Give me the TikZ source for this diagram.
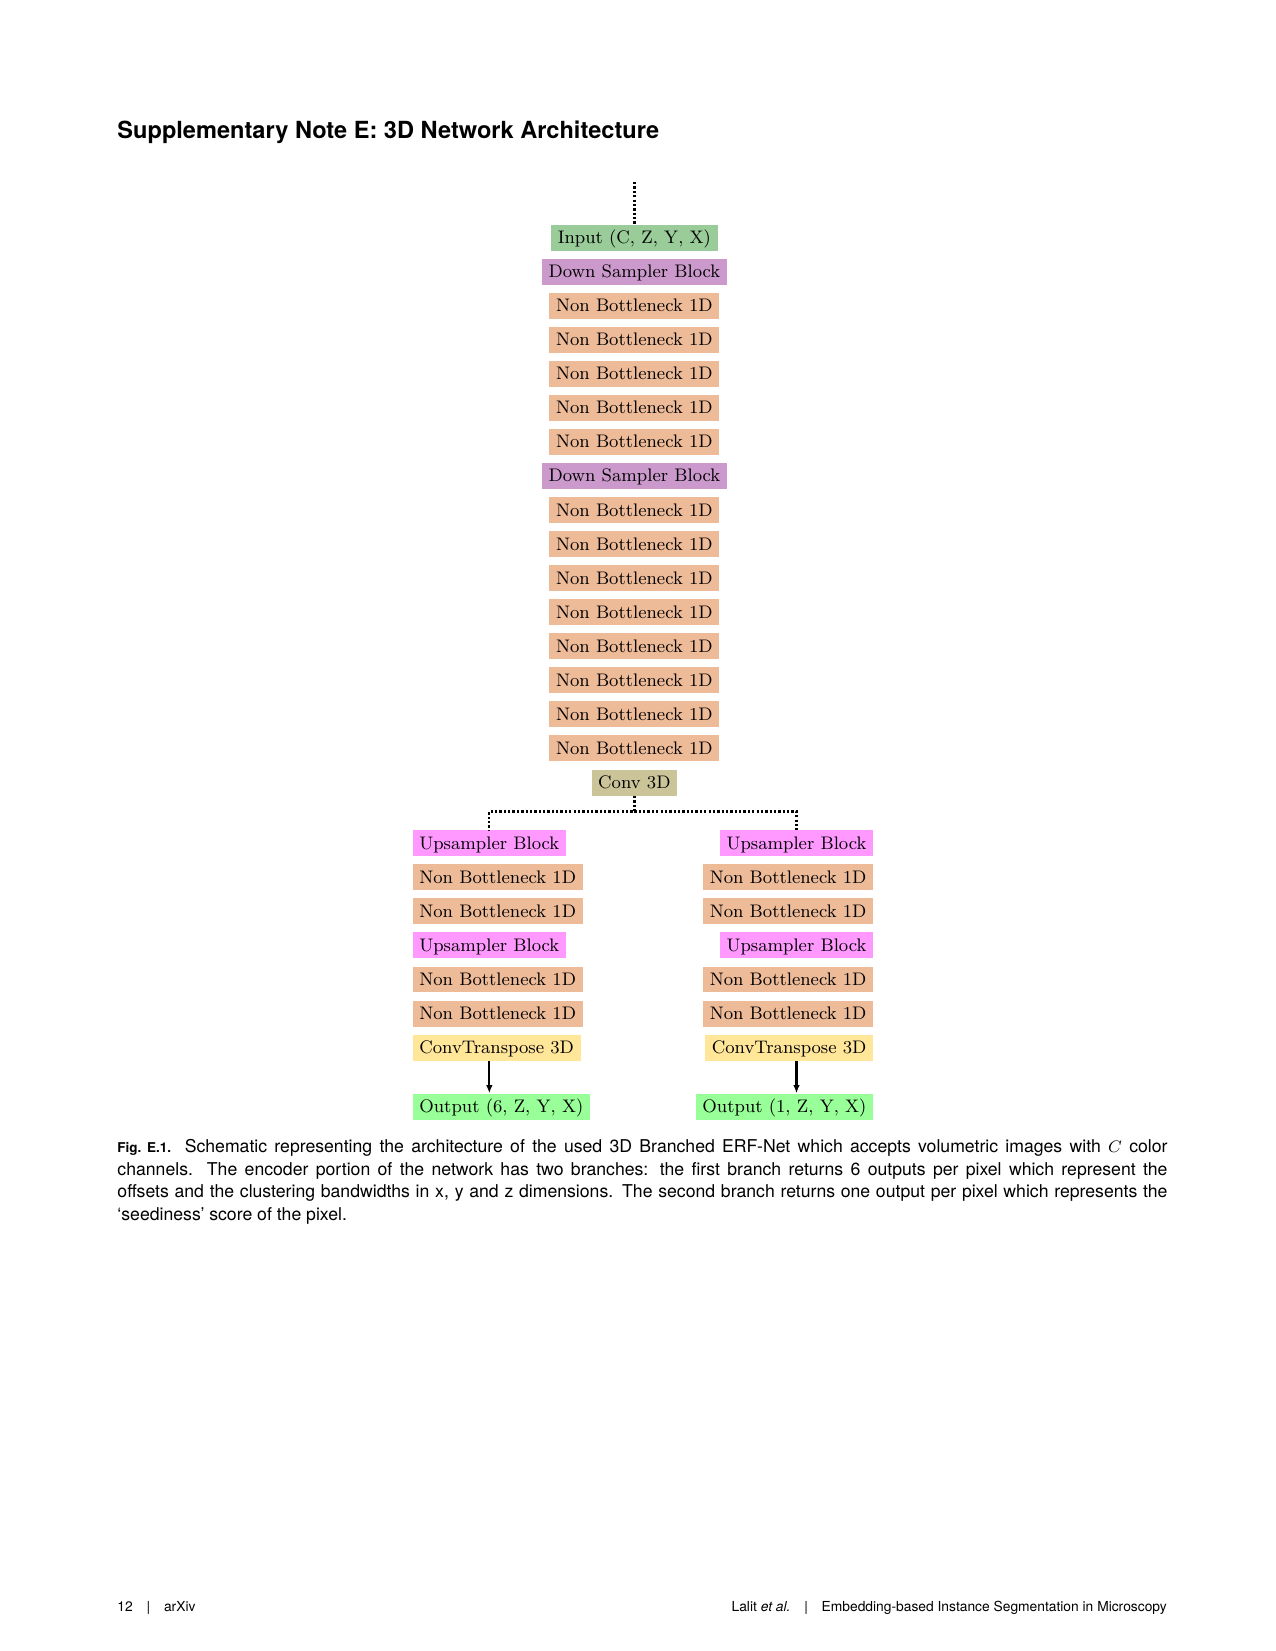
\documentclass[tikz,border=0pt]{standalone}
\usepackage{fontspec}
\newfontfamily\heros{TeX Gyre Heros}
\usetikzlibrary{arrows.meta}
\definecolor{inputgreen}{HTML}{99CC99}
\definecolor{downpurple}{HTML}{CC99CC}
\definecolor{nbpeach}{HTML}{EEBB99}
\definecolor{convkhaki}{HTML}{CCC499}
\definecolor{uppink}{HTML}{FF99FF}
\definecolor{ctyellow}{HTML}{FFE699}
\definecolor{outgreen}{HTML}{99FF99}
\tikzset{
  block/.style={inner xsep=3.2pt, inner ysep=2.5pt, text height=6.6pt, text depth=0.9pt, font=\fontsize{8.75}{11}\selectfont},
  inblock/.style={block, fill=inputgreen},
  downblock/.style={block, fill=downpurple},
  nbblock/.style={block, fill=nbpeach},
  convblock/.style={block, fill=convkhaki},
  upblock/.style={block, fill=uppink},
  ctblock/.style={block, fill=ctyellow},
  outblock/.style={block, fill=outgreen},
  link/.style={line width=1.1pt, densely dotted},
  arr/.style={line width=1.1pt, -{Latex[length=4pt,width=3.2pt]}}
}
\def\dy{0.5763}
\begin{document}
\begin{tikzpicture}
\useasboundingbox (0,0) rectangle (21.59,-27.94);
\node[anchor=base west, inner sep=0, font=\heros\bfseries\fontsize{11.35}{14}\selectfont] (title) at (1.981,-2.337) {Supplementary Note E: 3D Network Architecture};
\begin{scope}[shift={(10.736,-4.022)}]
\node[inblock] (inp) at (0,0) {Input (C, Z, Y, X)};
\node[downblock] (ds1) at (0,-\dy) {Down Sampler Block};
\foreach \i in {2,...,6} \node[nbblock] (enc\i) at (0,-\i*\dy) {Non Bottleneck 1D};
\node[downblock] (ds2) at (0,-7*\dy) {Down Sampler Block};
\foreach \i in {8,...,15} \node[nbblock] (enc\i) at (0,-\i*\dy) {Non Bottleneck 1D};
\node[convblock] (conv) at (0,-16*\dy) {Conv 3D};
\coordinate (top) at (0,0.94);
\coordinate (split) at (0,-9.711);
\end{scope}
\begin{scope}[shift={(6.977,-14.271)}]
\foreach \i in {0,3} \node[upblock, anchor=west] (upL\i) at (0,-\i*\dy) {Upsampler Block};
\foreach \i in {1,2,4,5} \node[nbblock, anchor=west] (decL\i) at (0,-\i*\dy) {Non Bottleneck 1D};
\node[ctblock, anchor=west] (ctL) at (0,-6*\dy) {ConvTranspose 3D};
\node[outblock, anchor=west] (outL) at (0,-4.458) {Output (6, Z, Y, X)};
\end{scope}
\begin{scope}[shift={(14.783,-14.271)}]
\foreach \i in {0,3} \node[upblock, anchor=east] (upR\i) at (0,-\i*\dy) {Upsampler Block};
\foreach \i in {1,2,4,5} \node[nbblock, anchor=east] (decR\i) at (0,-\i*\dy) {Non Bottleneck 1D};
\node[ctblock, anchor=east] (ctR) at (0,-6*\dy) {ConvTranspose 3D};
\node[outblock, anchor=east] (outR) at (0,-4.458) {Output (1, Z, Y, X)};
\end{scope}
\draw[link] (top) -- (inp.north);
\draw[link] (conv.south) -- (split) -| (upL0.north);
\draw[link] (split) -| (upR0.north);
\draw[arr] (ctL.south -| upL0) -- (outL.north -| upL0);
\draw[arr] (ctR.south -| upR0) -- (outR.north -| upR0);
\node[anchor=base west, inner sep=0, text width=17.77cm, align=justify, font=\heros\fontsize{8.5}{10.8}\selectfont] (caption) at (1.981,-19.511) {{\bfseries\fontsize{6.5}{8}\selectfont Fig.~E.1.} Schematic representing the architecture of the used 3D Branched ERF-Net which accepts volumetric images with $C$ color\linebreak channels.  The encoder portion of the network has two branches: the first branch returns 6 outputs per pixel which represent the\linebreak offsets and the clustering bandwidths in x, y and z dimensions. The second branch returns one output per pixel which represents the\linebreak ‘seediness’ score of the pixel.};
\node[anchor=base west, inner sep=0, font=\heros\fontsize{6.65}{8}\selectfont] (pagenum) at (1.981,-27.274) {12\hspace{1em}|\hspace{1em}arXiv};
\node[anchor=base east, inner sep=0, font=\heros\fontsize{6.65}{8}\selectfont] (runhead) at (19.753,-27.274) {Lalit \emph{et al.}\hspace{1em}|\hspace{1em}Embedding-based Instance Segmentation in Microscopy};
\end{tikzpicture}
\end{document}
